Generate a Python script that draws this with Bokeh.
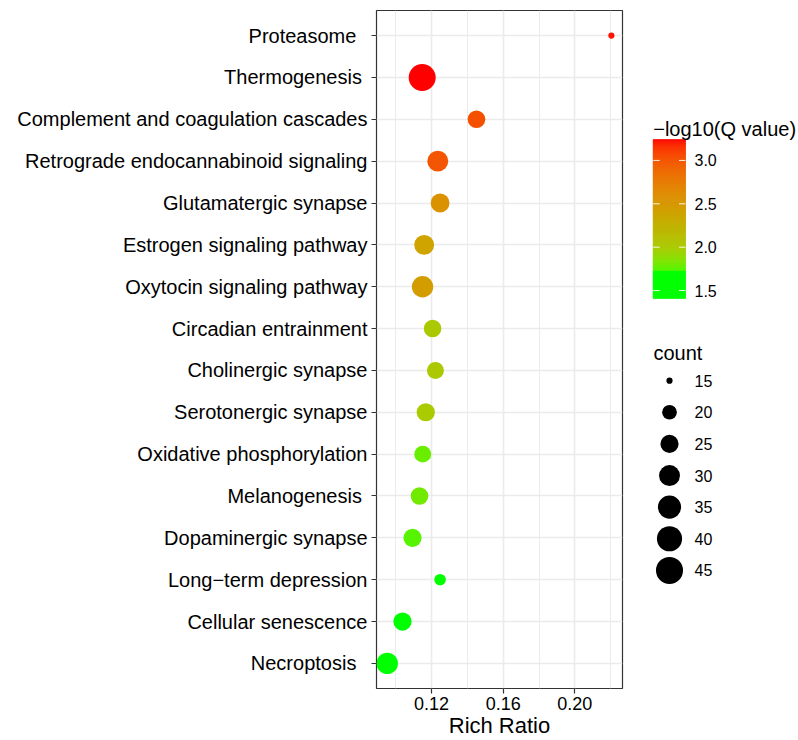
import numpy as np
from bokeh.plotting import figure
from bokeh.layouts import row
from bokeh.models import Range1d, FixedTicker, NumeralTickFormatter, ColumnDataSource
from bokeh.core.properties import value
from bokeh.embed import file_html
from bokeh.resources import INLINE

# ---------------- data ----------------
pathways = [
    "Proteasome  ", "Thermogenesis ", "Complement and coagulation cascades",
    "Retrograde endocannabinoid signaling", "Glutamatergic synapse",
    "Estrogen signaling pathway", "Oxytocin signaling pathway",
    "Circadian entrainment", "Cholinergic synapse", "Serotonergic synapse",
    "Oxidative phosphorylation", "Melanogenesis ", "Dopaminergic synapse",
    "Long\u2212term depression", "Cellular senescence", "Necroptosis  ",
]
rich_ratio = [0.2204, 0.1148, 0.1451, 0.1235, 0.1248, 0.1159, 0.1150, 0.1206,
              0.1222, 0.1168, 0.1151, 0.1133, 0.1094, 0.1248, 0.1038, 0.0953]
counts = [15, 45, 24, 30, 26, 28, 31, 24, 23, 25, 23, 24, 25, 17, 25, 31]
neg_log_q = [3.22, 3.24, 3.03, 3.00, 2.56, 2.40, 2.46, 2.02, 2.03, 2.00,
             1.79, 1.81, 1.75, 1.55, 1.48, 1.41]
x_ticks = [0.12, 0.16, 0.20]
x_minor = [0.10, 0.14, 0.18, 0.22]
q_breaks = [1.5, 2.0, 2.5, 3.0]
count_breaks = [15, 20, 25, 30, 35, 40, 45]

FONT = "Liberation Sans"

# ---------------- colour scale (Lab interpolation green -> red) ----------------
M = np.array([[0.4124564, 0.3575761, 0.1804375],
              [0.2126729, 0.7151522, 0.0721750],
              [0.0193339, 0.1191920, 0.9503041]])
MI = np.linalg.inv(M)
WHITE = np.array([0.95047, 1.0, 1.08883])


def to_lab(hexc):
    rgb = np.array([int(hexc[i:i + 2], 16) for i in (1, 3, 5)]) / 255.0
    lin = np.where(rgb <= 0.04045, rgb / 12.92, ((rgb + 0.055) / 1.055) ** 2.4)
    xyz = (M @ lin) / WHITE
    f = np.where(xyz > 0.008856, np.cbrt(xyz), 7.787 * xyz + 16 / 116)
    return np.array([116 * f[1] - 16, 500 * (f[0] - f[1]), 200 * (f[1] - f[2])])


def from_lab(lab):
    L, a, b = lab
    fy = (L + 16) / 116
    f = np.array([fy + a / 500, fy, fy - b / 200])
    xyz = np.where(f ** 3 > 0.008856, f ** 3, (f - 16 / 116) / 7.787) * WHITE
    lin = np.clip(MI @ xyz, 0, 1)
    rgb = np.where(lin <= 0.0031308, 12.92 * lin, 1.055 * lin ** (1 / 2.4) - 0.055)
    rgb = np.clip(rgb, 0, 1)
    return "#%02x%02x%02x" % tuple(int(round(v * 255)) for v in rgb)


LAB_LO = to_lab("#00FF00")
LAB_HI = to_lab("#FF0000")
q_lo, q_hi = min(neg_log_q), max(neg_log_q)


def q_color(q):
    t = np.interp(q, [q_lo, 1.73, 1.7301, 2.0, q_hi],
                  [0, 0, 0.05, (2.0 - q_lo) / (q_hi - q_lo), 1])
    return from_lab(LAB_LO + t * (LAB_HI - LAB_LO))


c_lo, c_hi = min(count_breaks), max(count_breaks)


def size_px(c):
    return 6.2 + 20.8 * np.sqrt((c - c_lo) / (c_hi - c_lo))


# ---------------- main plot ----------------
n = len(pathways)
ypos = [n - i for i in range(n)]

src = ColumnDataSource(dict(
    x=rich_ratio, y=ypos,
    size=[size_px(c) for c in counts],
    color=[q_color(q) for q in neg_log_q],
))

W_MAIN, H = 630, 740
FRAME_TOP, FRAME_BOTTOM = 10, 689
p = figure(width=W_MAIN, height=H, output_backend="svg", toolbar_location=None,
           x_range=Range1d(0.0893, 0.2266), y_range=Range1d(0.4, n + 0.6),
           min_border_left=376, min_border_right=8, min_border_top=FRAME_TOP,
           min_border_bottom=H - FRAME_BOTTOM)
p.background_fill_color = "white"
p.border_fill_color = "white"
p.outline_line_color = "#333333"
p.outline_line_width = 1.2

p.scatter("x", "y", size="size", fill_color="color", line_color=None, source=src)

xa = p.xaxis[0]
xa.ticker = FixedTicker(ticks=x_ticks, minor_ticks=x_minor)
xa.formatter = NumeralTickFormatter(format="0.00")
ya = p.yaxis[0]
ya.ticker = FixedTicker(ticks=ypos)
ya.major_label_overrides = {y: lab for y, lab in zip(ypos, pathways)}

for ax in (xa, ya):
    ax.axis_line_color = None
    ax.major_tick_line_color = "#333333"
    ax.major_tick_line_width = 1.2
    ax.major_tick_in = 0
    ax.major_tick_out = 5
    ax.minor_tick_line_color = None
    ax.major_label_text_font = FONT
    ax.major_label_text_color = "black"
xa.major_label_text_font_size = "18px"
xa.major_label_standoff = 3
xa.axis_label = "Rich Ratio"
xa.axis_label_text_font = FONT
xa.axis_label_text_font_size = "22px"
xa.axis_label_text_font_style = "normal"
xa.axis_label_text_color = "black"
xa.axis_label_standoff = 0
ya.major_label_text_font_size = "20px"
ya.major_label_standoff = 4

p.xgrid.grid_line_color = "#EBEBEB"
p.xgrid.grid_line_width = 1.6
p.xgrid.minor_grid_line_color = "#EBEBEB"
p.xgrid.minor_grid_line_width = 1.0
p.ygrid.grid_line_color = "#EBEBEB"
p.ygrid.grid_line_width = 1.6

# ---------------- legend panel (coordinates = page pixels) ----------------
W_LEG = 798 - W_MAIN
lg = figure(width=W_LEG, height=H, output_backend="svg", toolbar_location=None,
            x_range=Range1d(0, W_LEG), y_range=Range1d(FRAME_BOTTOM, FRAME_TOP),
            x_axis_type=None, y_axis_type=None, min_border=0,
            min_border_top=FRAME_TOP, min_border_bottom=H - FRAME_BOTTOM)
lg.outline_line_color = None
lg.grid.visible = False
lg.background_fill_color = "white"
lg.border_fill_color = "white"

# colour bar
cb_left, cb_right = 22.7, 55.0
cb_top, cb_bottom = 139.3, 298.3


def cb_y(q):
    return cb_bottom - (q - q_lo) / (q_hi - q_lo) * (cb_bottom - cb_top)


nb = 160
edges = np.linspace(q_lo, q_hi, nb + 1)
mids = (edges[:-1] + edges[1:]) / 2
bar_cols = [q_color(m) for m in mids]
lg.quad(left=cb_left, right=cb_right,
        bottom=[cb_y(e) for e in edges[:-1]], top=[cb_y(e) for e in edges[1:]],
        fill_color=bar_cols, line_color=bar_cols, line_width=0.8)
tick_len = (cb_right - cb_left) / 5
by = [cb_y(b) for b in q_breaks]
lg.segment(x0=[cb_left] * len(by) + [cb_right - tick_len] * len(by),
           x1=[cb_left + tick_len] * len(by) + [cb_right] * len(by),
           y0=by + by, y1=by + by, line_color="white", line_width=1, line_alpha=0.9)
lg.text(x=[cb_right + 9] * len(by), y=by, text=["%.1f" % b for b in q_breaks],
        text_font=value(FONT), text_font_size="16px", text_color="black",
        text_baseline="middle", text_align="left")
lg.text(x=[cb_left], y=[128.5], text=["\u2212log10(Q value)"],
        text_font=value(FONT), text_font_size="20px", text_color="black",
        text_baseline="alphabetic", text_align="left")

# size legend
key_x, key_y0, key_dy = 39.0, 380.7, 31.67
ky = [key_y0 + i * key_dy for i in range(len(count_breaks))]
lg.scatter(x=[key_x] * len(ky), y=ky, size=[size_px(c) for c in count_breaks],
           fill_color="black", line_color=None)
lg.text(x=[64.0] * len(ky), y=ky, text=[str(c) for c in count_breaks],
        text_font=value(FONT), text_font_size="16px", text_color="black",
        text_baseline="middle", text_align="left")
lg.text(x=[23.0], y=[353.5], text=["count"],
        text_font=value(FONT), text_font_size="20px", text_color="black",
        text_baseline="alphabetic", text_align="left")

layout = row(p, lg)
open("out.html", "w").write(file_html(layout, INLINE))
